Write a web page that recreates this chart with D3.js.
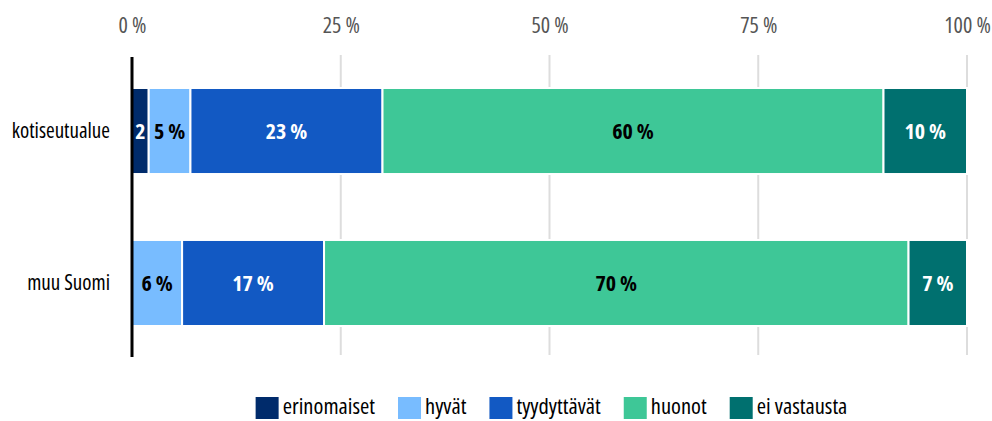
<!DOCTYPE html>
<html>
<head>
<meta charset="utf-8">
<script src="https://cdn.jsdelivr.net/npm/d3@7"></script>
<style>
    body { margin: 0; background: #ffffff; }
    svg text { font-family: "Open Sans", "DejaVu Sans Condensed", sans-serif; font-stretch: 75%; }
</style>
</head>
<body>
<div id="chart"></div>
<script>
const categories = ["kotiseutualue", "muu Suomi"];
const seriesNames = ["erinomaiset", "hyvät", "tyydyttävät", "huonot", "ei vastausta"];
const seriesColors = ["#002b6b", "#78bcff", "#1259c3", "#3ec797", "#00706f"];
const labelColors = ["#ffffff", "#000000", "#ffffff", "#000000", "#ffffff"];
const values = [
    [2, 5, 23, 60, 10],
    [0, 6, 17, 70, 7]
];
const tickValues = [0, 25, 50, 75, 100];

const width = 992, height = 421;
const margin = {top: 57, right: 25, bottom: 64, left: 132};

const svg = d3.select("#chart").append("svg")
    .attr("width", width)
    .attr("height", height);

const x = d3.scaleLinear()
    .domain([0, 100])
    .range([margin.left, width - margin.right]);

const y = d3.scaleBand()
    .domain(categories)
    .range([margin.top, height - margin.bottom])
    .paddingInner(0.434)
    .paddingOuter(0.204);

// grid lines
svg.append("g")
    .selectAll("line")
    .data(tickValues.slice(1))
    .join("line")
    .attr("x1", d => x(d))
    .attr("x2", d => x(d))
    .attr("y1", margin.top - 2)
    .attr("y2", height - margin.bottom - 2)
    .attr("stroke", "#dddddd")
    .attr("stroke-width", 2);

// top axis
const xAxis = svg.append("g")
    .attr("transform", "translate(0," + (margin.top - 21) + ")")
    .call(d3.axisTop(x).tickValues(tickValues).tickSize(0).tickFormat(d => d + " %"));
xAxis.select(".domain").remove();
xAxis.selectAll("text")
    .attr("font-size", 22)
    .attr("fill", "#555555");

// stacked data
const stacked = d3.stack()
    .keys(d3.range(seriesNames.length))
    .value((row, k) => row[k])(values);

const rowGroups = svg.append("g")
    .selectAll("g")
    .data(stacked)
    .join("g")
    .attr("fill", (d, i) => seriesColors[i]);

rowGroups.selectAll("rect")
    .data(d => d.map((s, j) => ({s: s, cat: categories[j]})))
    .join("rect")
    .attr("x", d => x(d.s[0]))
    .attr("y", d => y(d.cat))
    .attr("width", d => x(d.s[1]) - x(d.s[0]))
    .attr("height", y.bandwidth())
    .attr("stroke", "#ffffff")
    .attr("stroke-width", d => d.s[1] > d.s[0] ? 2 : 0);

// value labels
stacked.forEach((layer, i) => {
    svg.append("g")
        .selectAll("text")
        .data(layer.map((s, j) => ({s: s, cat: categories[j], v: values[j][i]})).filter(d => d.v > 0))
        .join("text")
        .attr("x", d => (x(d.s[0]) + x(d.s[1])) / 2)
        .attr("y", d => y(d.cat) + y.bandwidth() / 2)
        .attr("dy", "0.35em")
        .attr("text-anchor", "middle")
        .attr("font-size", 22)
        .attr("font-weight", "bold")
        .attr("fill", labelColors[i])
        .text(d => d.v < 3 ? d.v : d.v + " %");
});

// category labels
svg.append("g")
    .selectAll("text")
    .data(categories)
    .join("text")
    .attr("x", margin.left - 22)
    .attr("y", d => y(d) + y.bandwidth() / 2)
    .attr("dy", "0.35em")
    .attr("text-anchor", "end")
    .attr("font-size", 21)
    .attr("fill", "#000000")
    .text(d => d);

// left axis line
svg.append("line")
    .attr("x1", margin.left)
    .attr("x2", margin.left)
    .attr("y1", margin.top)
    .attr("y2", height - margin.bottom)
    .attr("stroke", "#000000")
    .attr("stroke-width", 3);

// legend
const legend = svg.append("g");
const items = legend.selectAll("g")
    .data(seriesNames)
    .join("g");
items.append("rect")
    .attr("width", 23)
    .attr("height", 22)
    .attr("y", -17)
    .attr("fill", (d, i) => seriesColors[i]);
items.append("text")
    .attr("x", 27)
    .attr("font-size", 22.5)
    .attr("fill", "#000000")
    .text(d => d);

let offset = 0;
items.each(function() {
    const w = 27 + d3.select(this).select("text").node().getComputedTextLength();
    d3.select(this).attr("transform", "translate(" + offset + ",0)");
    offset += w + 23;
});
offset -= 23;
legend.attr("transform", "translate(" + ((x(0) + x(100)) / 2 + 2 - offset / 2) + ",414)");
</script>
</body>
</html>
